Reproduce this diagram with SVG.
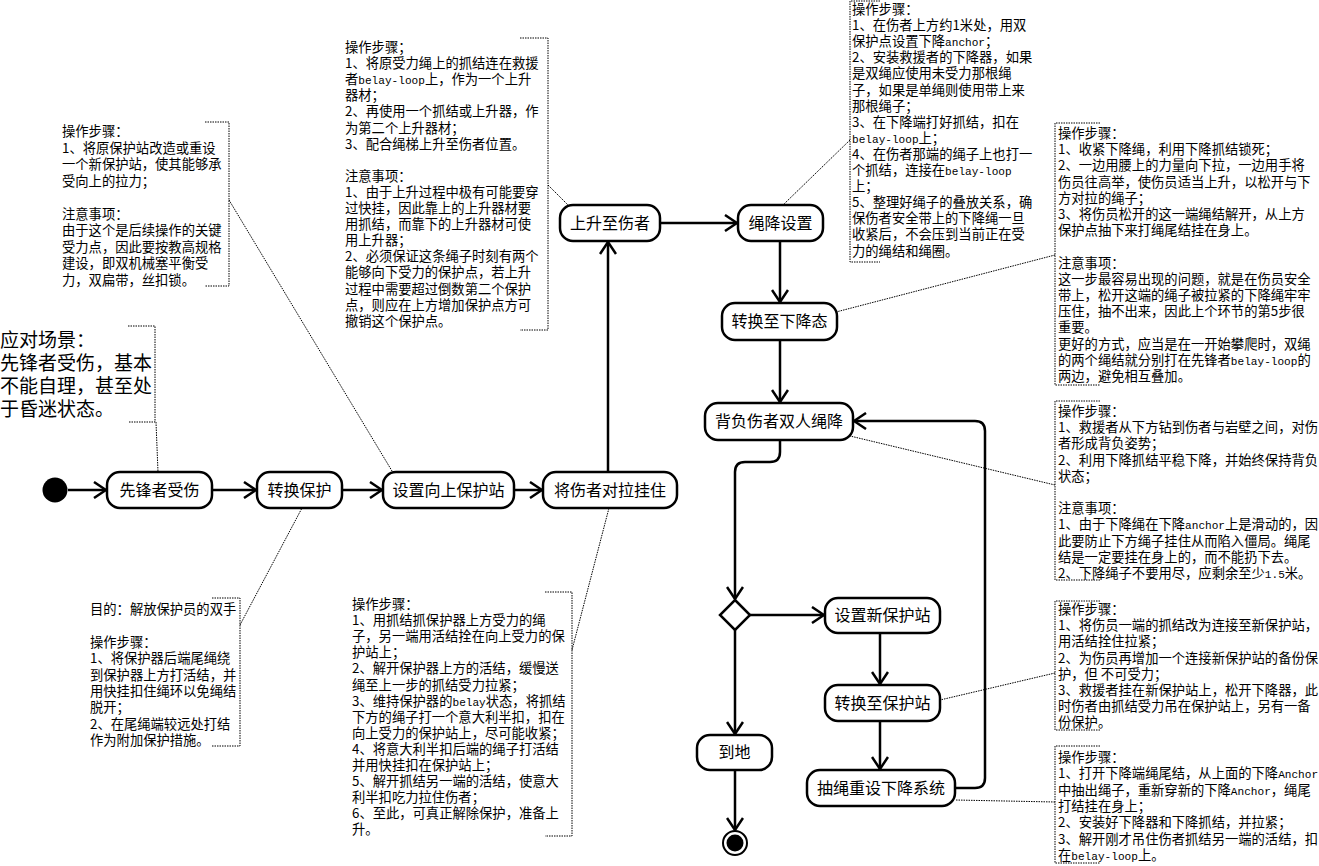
<svg xmlns="http://www.w3.org/2000/svg" width="1319" height="866" viewBox="0 0 1319 866">
<style>
.nd{fill:#fff;stroke:#000;stroke-width:2.5}
.lbl{font-family:"Noto Sans CJK SC","Noto Sans",sans-serif;font-size:16px;text-anchor:middle;fill:#000}
.nt{font-family:"Noto Sans CJK SC","Noto Sans",sans-serif;font-size:13.3px;fill:#000}
.lt{font-family:"Liberation Mono","DejaVu Sans Mono",monospace;font-size:11.1px}
.big{font-family:"Noto Sans CJK SC","Noto Sans",sans-serif;font-size:19px;fill:#000}
.br{fill:none;stroke:#000;stroke-width:1;stroke-dasharray:1.5,1}
.e{fill:none;stroke:#000;stroke-width:2.5}
</style>
<defs>
<marker id="arr" viewBox="0 0 14 18" refX="13" refY="9" markerWidth="14" markerHeight="18" markerUnits="userSpaceOnUse" orient="auto">
<path d="M1,1 L13,9 L1,17" fill="none" stroke="#000" stroke-width="2.5"/>
</marker>
</defs>
<rect width="1319" height="866" fill="#fff"/>

<g id="connectors">
<path class="e" d="M68,490 H106" marker-end="url(#arr)"/>
<path class="e" d="M212,490 H256" marker-end="url(#arr)"/>
<path class="e" d="M342,490 H382" marker-end="url(#arr)"/>
<path class="e" d="M514,490 H542" marker-end="url(#arr)"/>
<path class="e" d="M608,472 V242" marker-end="url(#arr)"/>
<path class="e" d="M660,223 H737" marker-end="url(#arr)"/>
<path class="e" d="M780,241 V302" marker-end="url(#arr)"/>
<path class="e" d="M780,340 V402" marker-end="url(#arr)"/>
<path class="e" d="M780,440 V452 Q780,462 770,462 H745 Q735,462 735,472 V599" marker-end="url(#arr)"/>
<path class="e" d="M750,615 H824" marker-end="url(#arr)"/>
<path class="e" d="M880,633 V684" marker-end="url(#arr)"/>
<path class="e" d="M880,721 V769" marker-end="url(#arr)"/>
<path class="e" d="M955,788 H975 Q985,788 985,778 V431 Q985,421 975,421 H854" marker-end="url(#arr)"/>
<path class="e" d="M735,630 V734" marker-end="url(#arr)"/>
<path class="e" d="M735,770 V830" marker-end="url(#arr)"/>
<path class="br" d="M156,422 L158,472"/>
<path class="br" d="M229,200 L395,476"/>
<path class="br" d="M548,185 L568,205"/>
<path class="br" d="M850,140 L783,205"/>
<path class="br" d="M1055,255 L836,312"/>
<path class="br" d="M1055,485 L850,436"/>
<path class="br" d="M1055,673 L940,700"/>
<path class="br" d="M1055,802 L955,800"/>
<path class="br" d="M240,625 L302,508"/>
<path class="br" d="M572,650 L609,508"/>
</g>

<g id="start"><circle cx="55" cy="490" r="12.5" fill="#000"/></g>
<g id="n1"><rect class="nd" x="107" y="472" width="105" height="36" rx="13"/><text class="lbl" x="159.5" y="495.5">先锋者受伤</text></g>
<g id="n2"><rect class="nd" x="257" y="472" width="85" height="36" rx="13"/><text class="lbl" x="299.5" y="495.5">转换保护</text></g>
<g id="n3"><rect class="nd" x="383" y="472" width="131" height="36" rx="13"/><text class="lbl" x="448.5" y="495.5">设置向上保护站</text></g>
<g id="n4"><rect class="nd" x="543" y="472" width="134" height="36" rx="13"/><text class="lbl" x="610" y="495.5">将伤者对拉挂住</text></g>
<g id="n5"><rect class="nd" x="560" y="205" width="100" height="36" rx="13"/><text class="lbl" x="610" y="228.5">上升至伤者</text></g>
<g id="n6"><rect class="nd" x="738" y="205" width="85" height="36" rx="13"/><text class="lbl" x="780.5" y="228.5">绳降设置</text></g>
<g id="n7"><rect class="nd" x="722" y="303" width="115" height="37" rx="13"/><text class="lbl" x="779.5" y="327">转换至下降态</text></g>
<g id="n8"><rect class="nd" x="705" y="403" width="148" height="37" rx="13"/><text class="lbl" x="779" y="427">背负伤者双人绳降</text></g>
<g id="dec"><path class="nd" d="M735,600 L750,615 L735,630 L720,615 Z"/></g>
<g id="n9"><rect class="nd" x="825" y="598" width="115" height="35" rx="13"/><text class="lbl" x="882.5" y="621">设置新保护站</text></g>
<g id="n10"><rect class="nd" x="825" y="685" width="115" height="36" rx="13"/><text class="lbl" x="882.5" y="708.5">转换至保护站</text></g>
<g id="n11"><rect class="nd" x="807" y="770" width="148" height="36" rx="13"/><text class="lbl" x="881" y="793.5">抽绳重设下降系统</text></g>
<g id="n12"><rect class="nd" x="697" y="735" width="75" height="35" rx="13"/><text class="lbl" x="734.5" y="758">到地</text></g>
<g id="end"><circle cx="735" cy="843" r="12" fill="#fff" stroke="#000" stroke-width="2"/><circle cx="735" cy="843" r="8.5" fill="#000"/></g>

<g id="scene">
<path class="br" d="M128,326 H155 V422 H128"/>
<text class="big" x="0"><tspan x="0" y="347">应对场景：</tspan><tspan x="0" y="370">先锋者受伤，基本</tspan><tspan x="0" y="393">不能自理，甚至处</tspan><tspan x="0" y="416">于昏迷状态。</tspan></text>
</g>

<g id="note1">
<path class="br" d="M205,122 H229 V286 H205"/>
<text class="nt"><tspan x="62" y="136">操作步骤：</tspan><tspan x="62" dy="16.5">1、将原保护站改造或重设</tspan><tspan x="62" dy="16.5">一个新保护站，使其能够承</tspan><tspan x="62" dy="16.5">受向上的拉力；</tspan><tspan x="62" dy="33">注意事项：</tspan><tspan x="62" dy="16.5">由于这个是后续操作的关键</tspan><tspan x="62" dy="16.5">受力点，因此要按教高规格</tspan><tspan x="62" dy="16.5">建设，即双机械塞平衡受</tspan><tspan x="62" dy="16.5">力，双扁带，丝扣锁。</tspan></text>
</g>

<g id="note2">
<path class="br" d="M520,38 H548 V330 H520"/>
<text class="nt"><tspan x="345" y="52">操作步骤；</tspan><tspan x="345" dy="16.1">1、将原受力绳上的抓结连在救援</tspan><tspan x="345" dy="16.1">者<tspan class="lt">belay-loop</tspan>上，作为一个上升</tspan><tspan x="345" dy="16.1">器材；</tspan><tspan x="345" dy="16.1">2、再使用一个抓结或上升器，作</tspan><tspan x="345" dy="16.1">为第二个上升器材；</tspan><tspan x="345" dy="16.1">3、配合绳梯上升至伤者位置。</tspan><tspan x="345" dy="32.2">注意事项：</tspan><tspan x="345" dy="16.1">1、由于上升过程中极有可能要穿</tspan><tspan x="345" dy="16.1">过快挂，因此靠上的上升器材要</tspan><tspan x="345" dy="16.1">用抓结，而靠下的上升器材可使</tspan><tspan x="345" dy="16.1">用上升器；</tspan><tspan x="345" dy="16.1">2、必须保证这条绳子时刻有两个</tspan><tspan x="345" dy="16.1">能够向下受力的保护点，若上升</tspan><tspan x="345" dy="16.1">过程中需要超过倒数第二个保护</tspan><tspan x="345" dy="16.1">点，则应在上方增加保护点方可</tspan><tspan x="345" dy="16.1">撤销这个保护点。</tspan></text>
</g>

<g id="note3">
<path class="br" d="M880,1 H850 V262 H880"/>
<text class="nt"><tspan x="852" y="14">操作步骤：</tspan><tspan x="852" dy="16.1">1、在伤者上方约1米处，用双</tspan><tspan x="852" dy="16.1">保护点设置下降<tspan class="lt">anchor</tspan>；</tspan><tspan x="852" dy="16.1">2、安装救援者的下降器，如果</tspan><tspan x="852" dy="16.1">是双绳应使用未受力那根绳</tspan><tspan x="852" dy="16.1">子，如果是单绳则使用带上来</tspan><tspan x="852" dy="16.1">那根绳子；</tspan><tspan x="852" dy="16.1">3、在下降端打好抓结，扣在</tspan><tspan x="852" dy="16.1"><tspan class="lt">belay-loop</tspan>上；</tspan><tspan x="852" dy="16.1">4、在伤者那端的绳子上也打一</tspan><tspan x="852" dy="16.1">个抓结，连接在<tspan class="lt">belay-loop</tspan></tspan><tspan x="852" dy="16.1">上；</tspan><tspan x="852" dy="16.1">5、整理好绳子的叠放关系，确</tspan><tspan x="852" dy="16.1">保伤者安全带上的下降绳一旦</tspan><tspan x="852" dy="16.1">收紧后，不会压到当前正在受</tspan><tspan x="852" dy="16.1">力的绳结和绳圈。</tspan></text>
</g>

<g id="note4">
<path class="br" d="M1100,123 H1055 V385 H1100"/>
<text class="nt"><tspan x="1058" y="138">操作步骤：</tspan><tspan x="1058" dy="16.2">1、收紧下降绳，利用下降抓结锁死；</tspan><tspan x="1058" dy="16.2">2、一边用腰上的力量向下拉，一边用手将</tspan><tspan x="1058" dy="16.2">伤员往高举，使伤员适当上升，以松开与下</tspan><tspan x="1058" dy="16.2">方对拉的绳子；</tspan><tspan x="1058" dy="16.2">3、将伤员松开的这一端绳结解开，从上方</tspan><tspan x="1058" dy="16.2">保护点抽下来打绳尾结挂在身上。</tspan><tspan x="1058" dy="32.4">注意事项：</tspan><tspan x="1058" dy="16.2">这一步最容易出现的问题，就是在伤员安全</tspan><tspan x="1058" dy="16.2">带上，松开这端的绳子被拉紧的下降绳牢牢</tspan><tspan x="1058" dy="16.2">压住，抽不出来，因此上个环节的第5步很</tspan><tspan x="1058" dy="16.2">重要。</tspan><tspan x="1058" dy="16.2">更好的方式，应当是在一开始攀爬时，双绳</tspan><tspan x="1058" dy="16.2">的两个绳结就分别打在先锋者<tspan class="lt">belay-loop</tspan>的</tspan><tspan x="1058" dy="16.2">两边，避免相互叠加。</tspan></text>
</g>

<g id="note5">
<path class="br" d="M1100,401 H1055 V580 H1100"/>
<text class="nt"><tspan x="1058" y="416">操作步骤：</tspan><tspan x="1058" dy="16.2">1、救援者从下方钻到伤者与岩壁之间，对伤</tspan><tspan x="1058" dy="16.2">者形成背负姿势；</tspan><tspan x="1058" dy="16.2">2、利用下降抓结平稳下降，并始终保持背负</tspan><tspan x="1058" dy="16.2">状态；</tspan><tspan x="1058" dy="32.4">注意事项：</tspan><tspan x="1058" dy="16.2">1、由于下降绳在下降<tspan class="lt">anchor</tspan>上是滑动的，因</tspan><tspan x="1058" dy="16.2">此要防止下方绳子挂住从而陷入僵局。绳尾</tspan><tspan x="1058" dy="16.2">结是一定要挂在身上的，而不能扔下去。</tspan><tspan x="1058" dy="16.2">2、下降绳子不要用尽，应剩余至少<tspan class="lt">1.5</tspan>米。</tspan></text>
</g>

<g id="note6">
<path class="br" d="M1100,601 H1055 V730 H1100"/>
<text class="nt"><tspan x="1058" y="614">操作步骤：</tspan><tspan x="1058" dy="16.2">1、将伤员一端的抓结改为连接至新保护站，</tspan><tspan x="1058" dy="16.2">用活结拴住拉紧；</tspan><tspan x="1058" dy="16.2">2、为伤员再增加一个连接新保护站的备份保</tspan><tspan x="1058" dy="16.2">护，但 不可受力；</tspan><tspan x="1058" dy="16.2">3、救援者挂在新保护站上，松开下降器，此</tspan><tspan x="1058" dy="16.2">时伤者由抓结受力吊在保护站上，另有一备</tspan><tspan x="1058" dy="16.2">份保护。</tspan></text>
</g>

<g id="note7">
<path class="br" d="M1100,746 H1055 V863 H1100"/>
<text class="nt"><tspan x="1058" y="762">操作步骤：</tspan><tspan x="1058" dy="16.3">1、打开下降端绳尾结，从上面的下降<tspan class="lt">Anchor</tspan></tspan><tspan x="1058" dy="16.3">中抽出绳子，重新穿新的下降<tspan class="lt">Anchor</tspan>，绳尾</tspan><tspan x="1058" dy="16.3">打结挂在身上；</tspan><tspan x="1058" dy="16.3">2、安装好下降器和下降抓结，并拉紧；</tspan><tspan x="1058" dy="16.3">3、解开刚才吊住伤者抓结另一端的活结，扣</tspan><tspan x="1058" dy="16.3">在<tspan class="lt">belay-loop</tspan>上。</tspan></text>
</g>

<g id="note8">
<path class="br" d="M212,598 H240 V746 H212"/>
<text class="nt"><tspan x="90" y="614">目的：解放保护员的双手</tspan><tspan x="90" dy="32.8">操作步骤：</tspan><tspan x="90" dy="16.4">1、将保护器后端尾绳绕</tspan><tspan x="90" dy="16.4">到保护器上方打活结，并</tspan><tspan x="90" dy="16.4">用快挂扣住绳环以免绳结</tspan><tspan x="90" dy="16.4">脱开；</tspan><tspan x="90" dy="16.4">2、在尾绳端较远处打结</tspan><tspan x="90" dy="16.4">作为附加保护措施。</tspan></text>
</g>

<g id="note9">
<path class="br" d="M545,592 H572 V836 H545"/>
<text class="nt"><tspan x="352" y="609">操作步骤：</tspan><tspan x="352" dy="16.1">1、用抓结抓保护器上方受力的绳</tspan><tspan x="352" dy="16.1">子，另一端用活结拴在向上受力的保</tspan><tspan x="352" dy="16.1">护站上；</tspan><tspan x="352" dy="16.1">2、解开保护器上方的活结，缓慢送</tspan><tspan x="352" dy="16.1">绳至上一步的抓结受力拉紧；</tspan><tspan x="352" dy="16.1">3、维持保护器的<tspan class="lt">belay</tspan>状态，将抓结</tspan><tspan x="352" dy="16.1">下方的绳子打一个意大利半扣，扣在</tspan><tspan x="352" dy="16.1">向上受力的保护站上，尽可能收紧；</tspan><tspan x="352" dy="16.1">4、将意大利半扣后端的绳子打活结</tspan><tspan x="352" dy="16.1">并用快挂扣在保护站上；</tspan><tspan x="352" dy="16.1">5、解开抓结另一端的活结，使意大</tspan><tspan x="352" dy="16.1">利半扣吃力拉住伤者；</tspan><tspan x="352" dy="16.1">6、至此，可真正解除保护，准备上</tspan><tspan x="352" dy="16.1">升。</tspan></text>
</g>
</svg>
